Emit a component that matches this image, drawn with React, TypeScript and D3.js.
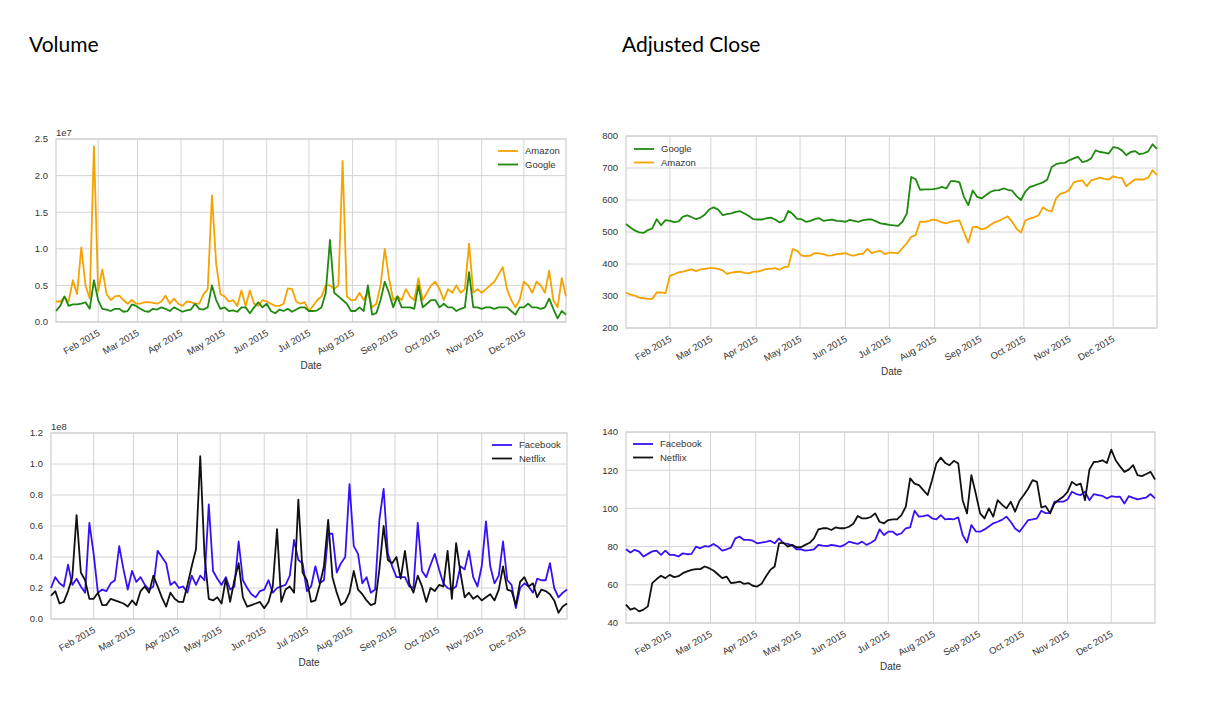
import React, { useEffect, useRef } from 'react';
import * as d3 from 'd3';

// one sample every third calendar day, Jan 2 -> Dec 31 2015
const startDate = new Date(2015, 0, 2);
const sampleDates: Date[] = d3.range(122).map((i: number) => d3.timeDay.offset(startDate, i * 3));

const monthTicks: Date[] = d3.timeMonth.range(new Date(2015, 1, 1), new Date(2015, 11, 2));
const monthLabels = ['Feb 2015', 'Mar 2015', 'Apr 2015', 'May 2015', 'Jun 2015', 'Jul 2015',
  'Aug 2015', 'Sep 2015', 'Oct 2015', 'Nov 2015', 'Dec 2015'];

// volume, units of 1e7
const amazonVolume = [
  0.28, 0.28, 0.34, 0.28, 0.57, 0.38, 1.02, 0.5, 0.32, 2.4, 0.42, 0.72, 0.38, 0.3, 0.35, 0.36, 0.3, 0.25, 0.3, 0.25,
  0.25, 0.27, 0.27, 0.26, 0.25, 0.28, 0.36, 0.25, 0.32, 0.25, 0.22, 0.28, 0.27, 0.25, 0.25, 0.38, 0.45, 1.73, 0.8, 0.38,
  0.35, 0.28, 0.3, 0.22, 0.43, 0.22, 0.43, 0.25, 0.22, 0.3, 0.28, 0.25, 0.22, 0.22, 0.25, 0.46, 0.45, 0.28, 0.25, 0.27,
  0.15, 0.22, 0.3, 0.35, 0.5, 0.5, 0.45, 0.5, 2.2, 0.35, 0.3, 0.3, 0.4, 0.3, 0.4, 0.2, 0.25, 0.5, 1.0, 0.6,
  0.3, 0.35, 0.3, 0.45, 0.35, 0.3, 0.6, 0.3, 0.4, 0.5, 0.55, 0.45, 0.3, 0.45, 0.4, 0.5, 0.4, 0.45, 1.07, 0.4,
  0.45, 0.4, 0.45, 0.5, 0.55, 0.65, 0.75, 0.45, 0.3, 0.2, 0.3, 0.55, 0.5, 0.4, 0.55, 0.5, 0.4, 0.7, 0.3, 0.2,
  0.6, 0.35,
];
const googleVolume = [
  0.15, 0.22, 0.35, 0.22, 0.24, 0.24, 0.25, 0.27, 0.18, 0.57, 0.3, 0.18, 0.17, 0.15, 0.18, 0.18, 0.14, 0.15, 0.24, 0.22,
  0.18, 0.15, 0.14, 0.18, 0.17, 0.2, 0.18, 0.15, 0.2, 0.17, 0.14, 0.16, 0.17, 0.25, 0.18, 0.17, 0.2, 0.5, 0.3, 0.18,
  0.2, 0.15, 0.16, 0.14, 0.2, 0.2, 0.12, 0.2, 0.27, 0.2, 0.25, 0.15, 0.12, 0.17, 0.15, 0.18, 0.14, 0.17, 0.2, 0.2,
  0.15, 0.15, 0.16, 0.2, 0.4, 1.12, 0.4, 0.35, 0.3, 0.25, 0.15, 0.15, 0.2, 0.15, 0.5, 0.1, 0.12, 0.3, 0.55, 0.4,
  0.2, 0.35, 0.2, 0.2, 0.2, 0.18, 0.5, 0.2, 0.25, 0.3, 0.3, 0.2, 0.25, 0.2, 0.2, 0.15, 0.18, 0.2, 0.68, 0.2,
  0.2, 0.18, 0.2, 0.2, 0.18, 0.2, 0.2, 0.2, 0.15, 0.1, 0.2, 0.2, 0.25, 0.2, 0.2, 0.18, 0.2, 0.32, 0.18, 0.05,
  0.15, 0.1,
];

// volume, units of 1e8
const facebookVolume = [
  0.2, 0.27, 0.23, 0.21, 0.35, 0.22, 0.26, 0.21, 0.17, 0.62, 0.42, 0.17, 0.19, 0.18, 0.23, 0.25, 0.47, 0.32, 0.19, 0.31,
  0.24, 0.27, 0.22, 0.19, 0.21, 0.44, 0.4, 0.36, 0.22, 0.24, 0.2, 0.21, 0.17, 0.28, 0.22, 0.28, 0.25, 0.74, 0.31, 0.26,
  0.22, 0.27, 0.19, 0.21, 0.5, 0.25, 0.2, 0.16, 0.14, 0.18, 0.19, 0.25, 0.17, 0.2, 0.21, 0.22, 0.28, 0.51, 0.38, 0.36,
  0.18, 0.21, 0.34, 0.23, 0.25, 0.55, 0.55, 0.3, 0.36, 0.4, 0.87, 0.47, 0.42, 0.23, 0.27, 0.17, 0.19, 0.64, 0.84, 0.42,
  0.34, 0.27, 0.27, 0.27, 0.21, 0.2, 0.62, 0.31, 0.27, 0.35, 0.42, 0.32, 0.23, 0.2, 0.19, 0.21, 0.34, 0.32, 0.44, 0.27,
  0.21, 0.34, 0.63, 0.34, 0.23, 0.28, 0.5, 0.25, 0.22, 0.07, 0.2, 0.23, 0.21, 0.17, 0.26, 0.25, 0.25, 0.36, 0.2, 0.14,
  0.17, 0.19,
];
const netflixVolume = [
  0.15, 0.18, 0.1, 0.11, 0.18, 0.27, 0.67, 0.3, 0.25, 0.13, 0.13, 0.17, 0.09, 0.09, 0.13, 0.12, 0.11, 0.1, 0.08, 0.12,
  0.09, 0.18, 0.21, 0.17, 0.28, 0.21, 0.14, 0.08, 0.17, 0.13, 0.11, 0.11, 0.22, 0.34, 0.45, 1.05, 0.41, 0.13, 0.12, 0.14,
  0.1, 0.26, 0.11, 0.25, 0.36, 0.14, 0.08, 0.09, 0.1, 0.11, 0.07, 0.11, 0.21, 0.58, 0.11, 0.19, 0.21, 0.17, 0.77, 0.3,
  0.25, 0.11, 0.12, 0.22, 0.34, 0.64, 0.27, 0.17, 0.09, 0.11, 0.17, 0.31, 0.19, 0.16, 0.12, 0.09, 0.1, 0.32, 0.6, 0.38,
  0.36, 0.4, 0.26, 0.44, 0.23, 0.17, 0.28, 0.21, 0.11, 0.2, 0.18, 0.22, 0.21, 0.44, 0.13, 0.49, 0.3, 0.14, 0.17, 0.13,
  0.15, 0.12, 0.14, 0.16, 0.12, 0.19, 0.34, 0.19, 0.18, 0.09, 0.24, 0.27, 0.21, 0.23, 0.14, 0.19, 0.18, 0.16, 0.12, 0.04,
  0.08, 0.1,
];

// adjusted close
const googleClose = [
  525, 514, 505, 499, 497, 506, 511, 540, 521, 537, 535, 531, 533, 548, 552, 546, 540, 545, 555, 571,
  577, 570, 553, 556, 558, 563, 565, 558, 550, 540, 539, 539, 543, 545, 539, 530, 536, 566, 556, 541,
  540, 532, 535, 540, 543, 535, 537, 539, 535, 534, 532, 538, 535, 532, 537, 539, 539, 533, 527, 525,
  522, 521, 519, 532, 558, 672, 665, 632, 633, 633, 634, 636, 641, 636, 659, 659, 655, 610, 584, 630,
  610, 605, 615, 625, 630, 631, 636, 632, 629, 612, 600, 626, 640, 645, 650, 655, 664, 703, 712, 715,
  716, 724, 730, 735, 718, 722, 730, 755, 750, 748, 745, 765, 763, 755, 740, 750, 753, 743, 746, 752,
  774, 760,
];
const amazonClose = [
  311, 304, 301, 295, 293, 291, 291, 311, 311, 309, 363, 368, 374, 376, 380, 383, 378, 383, 385, 387,
  387, 385, 380, 369, 373, 375, 376, 372, 371, 376, 376, 380, 385, 385, 387, 382, 390, 392, 447, 441,
  426, 425, 426, 434, 433, 431, 426, 427, 431, 432, 434, 428, 426, 431, 432, 447, 434, 439, 441, 431,
  436, 435, 434, 450, 465, 485, 490, 532, 532, 535, 539, 536, 530, 527, 532, 535, 536, 500, 467, 515,
  516, 508, 512, 522, 530, 535, 542, 549, 532, 510, 498, 536, 542, 546, 552, 577, 568, 564, 605, 620,
  623, 631, 655, 659, 661, 643, 662, 665, 670, 666, 664, 674, 670, 669, 643, 655, 664, 664, 664, 670,
  693, 678,
];
const facebookClose = [
  78.6, 76.9, 78.3, 77.4, 74.8, 76.2, 77.5, 77.9, 75.7, 77.9, 75.7, 75.7, 74.8, 76.5, 76, 76.2, 80, 79.1, 80.3, 80,
  81.4, 80, 77.9, 78.6, 79.5, 84.3, 85.2, 83.5, 83.5, 83.1, 81.7, 82.1, 82.5, 83.1, 81.7, 84.3, 81.7, 81.4, 80.5, 78.6,
  78.6, 77.9, 78.2, 78.6, 80.9, 80.5, 80.3, 80.9, 80.5, 80, 80.9, 82.6, 82, 81.4, 82.6, 80.9, 82, 83.5, 89, 86.1,
  87.8, 87.8, 86.1, 87, 89.6, 90.1, 98.8, 95.7, 96, 96.5, 94.8, 94.3, 96.5, 94.3, 94.5, 94.3, 95.3, 86.1, 82.1, 91.3,
  88, 87.8, 89, 90.5, 92.2, 93, 94, 95.7, 93, 89.5, 87.8, 90.8, 93.9, 94.3, 94.8, 98.8, 97.5, 97.7, 103.5, 103.5,
  103.5, 104.7, 108.7, 107.5, 107, 108.7, 104.3, 107.5, 107, 106.5, 105.2, 106.4, 106, 106.1, 102.6, 106.4, 105.5, 104.7, 105.2, 105.7,
  107.5, 105.2,
];
const netflixClose = [
  49.6, 47, 47.8, 46.1, 47, 48.7, 60.9, 63, 64.7, 63.5, 65.2, 64, 64.5, 66.1, 67, 67.8, 68.2, 68.2, 69.6, 68.7,
  67.5, 65.5, 63.5, 64.3, 60.9, 61.2, 61.7, 60.5, 60.9, 59.5, 59.1, 60.5, 64.3, 67.8, 69.6, 81.7, 82.1, 80, 80.9, 79.7,
  79.7, 80.9, 82, 84.3, 89, 89.6, 89.6, 88.7, 90.1, 89.6, 89.6, 90.4, 92, 96, 94.8, 94.8, 95.5, 97.4, 93, 92.2,
  93.9, 94.3, 94.3, 96.5, 100.9, 115.7, 113, 112.2, 109.6, 107, 114.8, 123.5, 126.6, 123.8, 122.6, 124.9, 123.5, 104.3, 97.4, 117.4,
  107.8, 97.4, 94.8, 100, 95.7, 104.3, 102, 100, 103.5, 98.3, 104, 107, 110.4, 114.8, 113.9, 100.5, 101.2, 97.4, 102.6, 104.5,
  106.1, 108.7, 113.9, 112.2, 113, 104.3, 120.3, 124.3, 124.5, 125.2, 123.8, 130.8, 125.2, 122, 119.1, 120.3, 122.6, 117.4, 116.9, 118,
  119.1, 115.1,
];

const AMAZON = '#f5a300';
const GOOGLE = '#1f8a0f';
const FACEBOOK = '#3512f5';
const NETFLIX = '#111111';

interface Series { name: string; color: string; values: number[] }
interface Panel {
  left: number; right: number; top: number; bottom: number;
  yDomain: [number, number]; yTicks: number[]; yFormat: (v: number) => string;
  offsetText?: string;
  legendX: number; legendY: number;
  dateLabelY: number;
  series: Series[];
}

const panels: Panel[] = [
  {
    left: 56, right: 566, top: 139, bottom: 322,
    yDomain: [0, 2.5], yTicks: [0, 0.5, 1, 1.5, 2, 2.5], yFormat: d3.format('.1f'),
    offsetText: '1e7', legendX: 498, legendY: 151, dateLabelY: 369,
    series: [
      { name: 'Amazon', color: AMAZON, values: amazonVolume },
      { name: 'Google', color: GOOGLE, values: googleVolume },
    ],
  },
  {
    left: 626, right: 1157, top: 136, bottom: 328,
    yDomain: [200, 800], yTicks: [200, 300, 400, 500, 600, 700, 800], yFormat: d3.format('d'),
    legendX: 634, legendY: 149, dateLabelY: 375,
    series: [
      { name: 'Google', color: GOOGLE, values: googleClose },
      { name: 'Amazon', color: AMAZON, values: amazonClose },
    ],
  },
  {
    left: 51, right: 567, top: 433, bottom: 619,
    yDomain: [0, 1.2], yTicks: [0, 0.2, 0.4, 0.6, 0.8, 1.0, 1.2], yFormat: d3.format('.1f'),
    offsetText: '1e8', legendX: 492, legendY: 445, dateLabelY: 666,
    series: [
      { name: 'Facebook', color: FACEBOOK, values: facebookVolume },
      { name: 'Netflix', color: NETFLIX, values: netflixVolume },
    ],
  },
  {
    left: 626, right: 1155, top: 432, bottom: 623,
    yDomain: [40, 140], yTicks: [40, 60, 80, 100, 120, 140], yFormat: d3.format('d'),
    legendX: 633, legendY: 444, dateLabelY: 670,
    series: [
      { name: 'Facebook', color: FACEBOOK, values: facebookClose },
      { name: 'Netflix', color: NETFLIX, values: netflixClose },
    ],
  },
];

const FONT = '"Liberation Sans", Arial, sans-serif';

const App: React.FC = () => {
  const svgRef = useRef<SVGSVGElement>(null);

  useEffect(() => {
    if (!svgRef.current) return;
    const svg = d3.select(svgRef.current);
    svg.selectAll('*').remove();

    svg.append('rect').attr('width', 1214).attr('height', 717).attr('fill', '#fff');

    svg.append('text')
      .attr('x', 29).attr('y', 52)
      .attr('font-family', 'Lato, "Open Sans", sans-serif')
      .style('font-size', '21px')
      .style('fill', '#000')
      .text('Volume');

    svg.append('text')
      .attr('x', 622).attr('y', 52)
      .attr('font-family', 'Lato, "Open Sans", sans-serif')
      .style('font-size', '21px')
      .style('fill', '#000')
      .text('Adjusted Close');

    panels.forEach((p) => {
      const xScale = d3.scaleTime()
        .domain([sampleDates[0], sampleDates[sampleDates.length - 1]])
        .range([p.left, p.right]);
      const yScale = d3.scaleLinear().domain(p.yDomain).range([p.bottom, p.top]);

      const g = svg.append('g');

      g.selectAll('line.hgrid')
        .data(p.yTicks)
        .enter()
        .append('line')
        .attr('x1', p.left).attr('x2', p.right)
        .attr('y1', (d: number) => yScale(d)).attr('y2', (d: number) => yScale(d))
        .attr('stroke', '#d4d4d4').attr('stroke-width', 1);

      g.selectAll('line.vgrid')
        .data(monthTicks)
        .enter()
        .append('line')
        .attr('x1', (d: Date) => xScale(d)).attr('x2', (d: Date) => xScale(d))
        .attr('y1', p.top).attr('y2', p.bottom)
        .attr('stroke', '#d4d4d4').attr('stroke-width', 1);

      g.append('rect')
        .attr('x', p.left).attr('y', p.top)
        .attr('width', p.right - p.left).attr('height', p.bottom - p.top)
        .attr('fill', 'none').attr('stroke', '#cfcfcf').attr('stroke-width', 1.2);

      g.selectAll('text.ytick')
        .data(p.yTicks)
        .enter()
        .append('text')
        .attr('x', p.left - 8)
        .attr('y', (d: number) => yScale(d))
        .attr('dy', '0.35em')
        .attr('text-anchor', 'end')
        .attr('font-family', FONT)
        .style('font-size', '9.5px')
        .style('fill', '#333')
        .text((d: number) => p.yFormat(d));

      g.selectAll('text.xtick')
        .data(monthTicks)
        .enter()
        .append('text')
        .attr('transform', (d: Date) => `translate(${xScale(d) - 1},${p.bottom + 7}) rotate(-30)`)
        .attr('dy', '0.7em')
        .attr('text-anchor', 'end')
        .attr('font-family', FONT)
        .style('font-size', '9.5px')
        .style('fill', '#333')
        .text((_: Date, i: number) => monthLabels[i]);

      if (p.offsetText) {
        g.append('text')
          .attr('x', p.left).attr('y', p.top - 3)
          .attr('font-family', FONT)
          .style('font-size', '9.5px')
          .style('fill', '#333')
          .text(p.offsetText);
      }

      g.append('text')
        .attr('x', (p.left + p.right) / 2)
        .attr('y', p.dateLabelY)
        .attr('text-anchor', 'middle')
        .attr('font-family', FONT)
        .style('font-size', '10px')
        .style('fill', '#333')
        .text('Date');

      const line = d3.line<number>()
        .x((_: number, i: number) => xScale(sampleDates[i]))
        .y((d: number) => yScale(d));

      p.series.forEach((s, k) => {
        g.append('path')
          .datum(s.values)
          .attr('d', line)
          .attr('fill', 'none')
          .attr('stroke', s.color)
          .attr('stroke-width', 1.8)
          .attr('stroke-linejoin', 'round');

        const ly = p.legendY + k * 13.5;
        g.append('line')
          .attr('x1', p.legendX).attr('x2', p.legendX + 20)
          .attr('y1', ly).attr('y2', ly)
          .attr('stroke', s.color).attr('stroke-width', 1.8);
        g.append('text')
          .attr('x', p.legendX + 27).attr('y', ly)
          .attr('dy', '0.35em')
          .attr('font-family', FONT)
          .style('font-size', '9.5px')
          .style('fill', '#333')
          .text(s.name);
      });
    });
  }, []);

  return (
    <svg
      ref={svgRef}
      width={1214}
      height={717}
      style={{ position: 'absolute', left: 0, top: 0, display: 'block' }}
    />
  );
};

export default App;
